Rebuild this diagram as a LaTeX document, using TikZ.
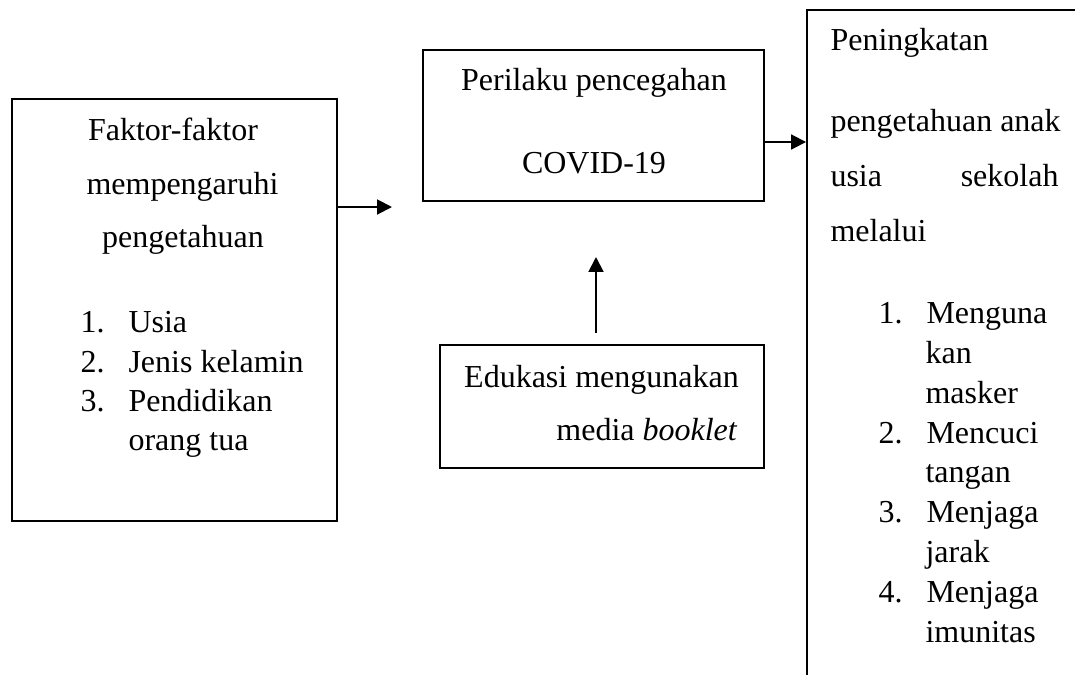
\documentclass[tikz,border=0pt]{standalone}
\usepackage{fontspec}
\setmainfont{Liberation Serif}
\usetikzlibrary{positioning,arrows.meta}

\tikzset{
  kotak/.style={draw, line width=0.7pt, inner sep=0pt},
  teks/.style={anchor=base, inner sep=0pt, font=\fontsize{12pt}{15pt}\selectfont},
  teksL/.style={teks, anchor=base west},
  teksR/.style={teks, anchor=base east},
  panah/.style={-{Triangle[length=5.6pt,width=5.6pt]}, line width=0.75pt},
}
\newcommand{\butir}[2]{\makebox[18pt][l]{#1}#2}

\begin{document}
\begin{tikzpicture}[x=0.375pt, y=-0.375pt]
    \clip (0,0) rectangle (1075,675);

    % kotak-kotak
    \node (faktor) [kotak, minimum width=122pt, minimum height=158.25pt] at (174.3,310) {};
    \node (perilaku) [kotak, minimum width=127.9pt, minimum height=56.8pt] at (593.5,125.3) {};
    \node (edukasi) [kotak, minimum width=121.5pt, minimum height=46.1pt] at (602,406.5) {};
    \node (hasil) [kotak, minimum width=109.9pt, minimum height=258.9pt] at (953.5,354.8) {};

    % teks kotak faktor
    \node (fk1) [teks] at (173,140) {Faktor-faktor};
    \node (fk2) [teks] at (182.5,194) {mempengaruhi};
    \node (fk3) [teks] at (183,247) {pengetahuan};
    \node (fk4) [teksL] at (80,332) {\butir{1.}{Usia}};
    \node (fk5) [teksL] at (80,372) {\butir{2.}{Jenis kelamin}};
    \node (fk6) [teksL] at (80,411) {\butir{3.}{Pendidikan}};
    \node (fk7) [teksL] at (128,450) {orang tua};

    % teks kotak perilaku
    \node (pr1) [teks] at (594,90) {Perilaku pencegahan};
    \node (pr2) [teks] at (594,173) {COVID-19};

    % teks kotak edukasi
    \node (ed1) [teks] at (601.5,387) {Edukasi mengunakan};
    \node (ed2) [teksR] at (738,440) {media \textit{booklet}};

    % teks kotak hasil
    \node (hs1) [teksL] at (830,50) {Peningkatan};
    \node (hs2) [teksL] at (830,131) {pengetahuan anak};
    \node (hs3) [teksL] at (830,186) {\makebox[85.5pt][s]{usia sekolah}};
    \node (hs4) [teksL] at (830,241) {melalui};
    \node (hs5) [teksL] at (878,323) {\butir{1.}{Menguna}};
    \node (hs6) [teksL] at (925,363) {kan};
    \node (hs7) [teksL] at (925,403) {masker};
    \node (hs8) [teksL] at (878,443) {\butir{2.}{Mencuci}};
    \node (hs9) [teksL] at (925,482) {tangan};
    \node (hs10) [teksL] at (878,522) {\butir{3.}{Menjaga}};
    \node (hs11) [teksL] at (925,562) {jarak};
    \node (hs12) [teksL] at (878,602) {\butir{4.}{Menjaga}};
    \node (hs13) [teksL] at (925,642) {imunitas};

    % panah
    \coordinate (ujungF) at (392,207);
    \coordinate (ujungP) at (807,142);
    \coordinate (pangkalE) at (596,333);
    \coordinate (ujungE) at (596,257);

    \draw [panah] (faktor.east |- ujungF) -- (ujungF);
    \draw [panah] (perilaku.east |- ujungP) -- (hasil.west |- ujungP);
    \draw [panah] (pangkalE) -- (ujungE);
\end{tikzpicture}
\end{document}
